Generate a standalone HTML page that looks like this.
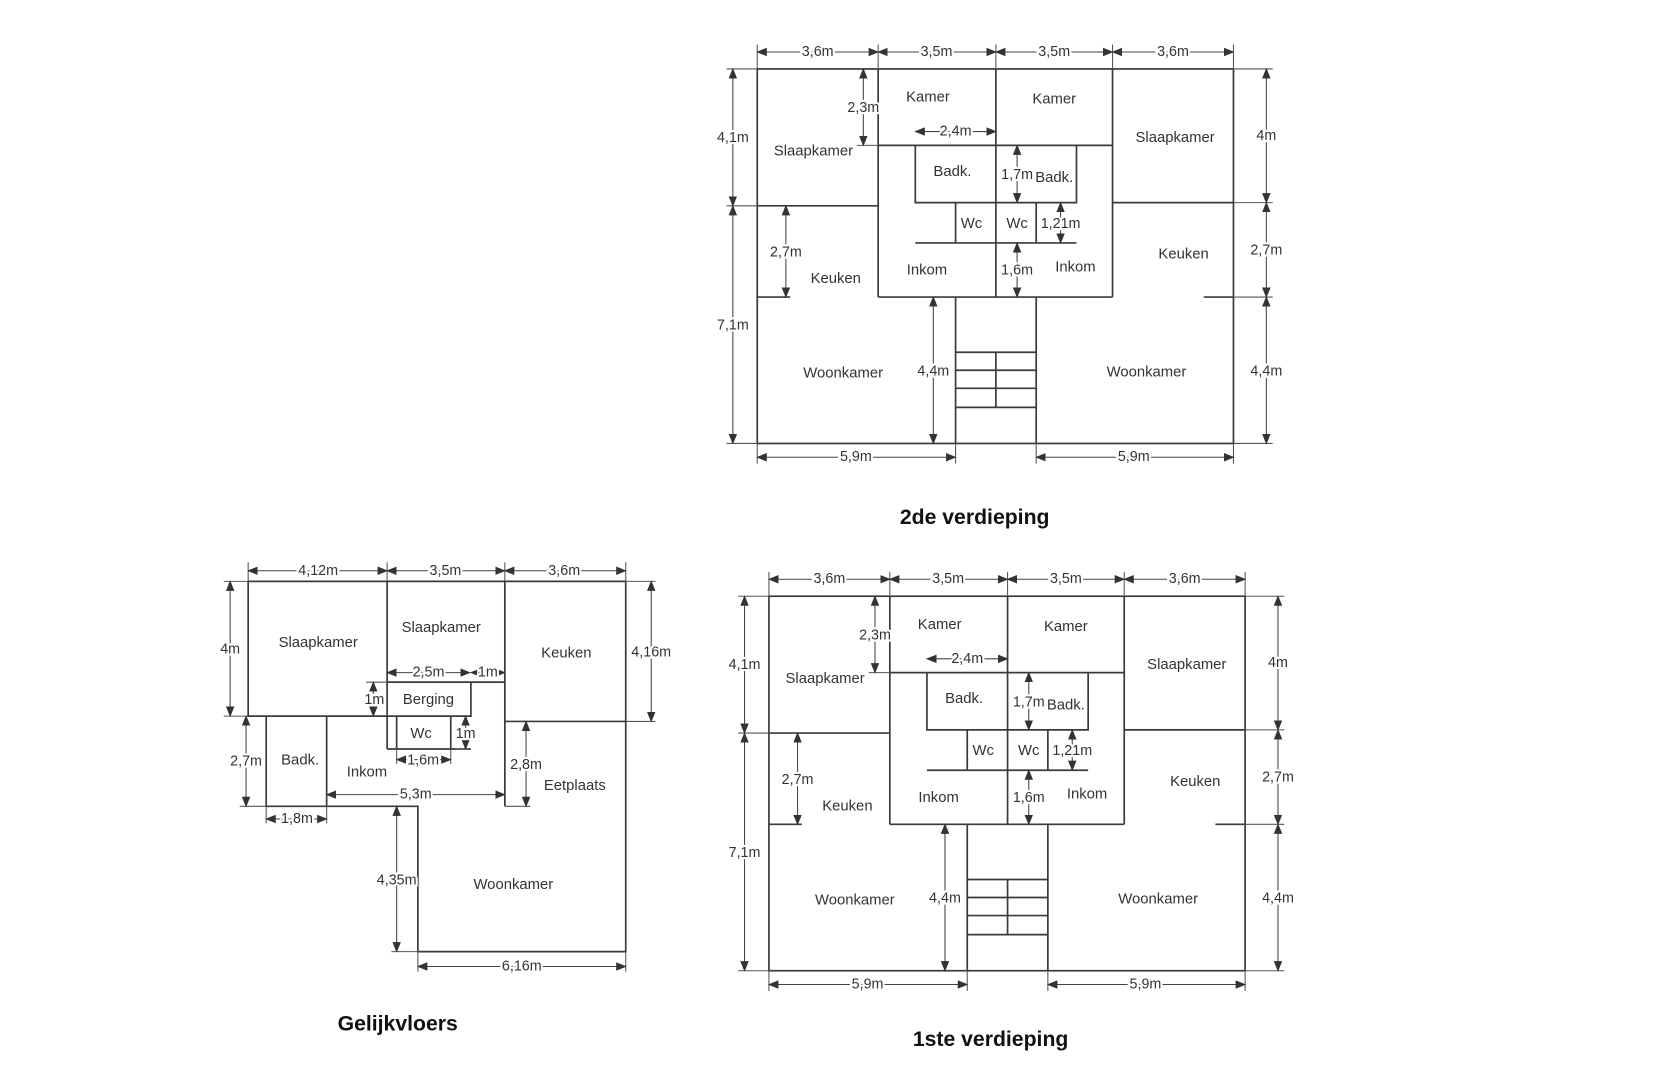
<!DOCTYPE html>
<html><head><meta charset="utf-8"><style>
html,body{margin:0;padding:0;background:#fff;}
svg{display:block;}
.w{stroke:#3a3a3a;stroke-width:1.6;fill:none;}
.e{stroke:#555;stroke-width:1;fill:none;}
.d{stroke:#444;stroke-width:1;marker-start:url(#a);marker-end:url(#a);}
text{font-family:"Liberation Sans",sans-serif;font-size:14px;fill:#333;text-anchor:middle;dominant-baseline:central;}
.t{font-size:13.5px;stroke:#fff;stroke-width:4px;paint-order:stroke;}
.h{font-size:20px;font-weight:bold;fill:#111;}
</style></head><body>
<svg width="1663" height="1080" viewBox="0 0 1568 1018" preserveAspectRatio="none" xmlns="http://www.w3.org/2000/svg">
<defs><marker id="a" markerWidth="10" markerHeight="8" refX="9" refY="4" orient="auto-start-reverse" markerUnits="userSpaceOnUse"><path d="M0,0L10,4L0,8z" fill="#333"/></marker></defs>

<!-- 2de verdieping -->
<g>
<rect class="w" x="714" y="65" width="449" height="353"/>
<path class="w" d="M828 65V280M939 65V280M1049 65V280M714 194H828M828 137H1049M1049 191H1163M828 280H1049M863 137V191H1015V137M901 191V229M977 191V229M863 229H1015M714 280H745M1135 280H1163M901 280V418M977 280V418M901 332H977M901 349H977M901 366H977M901 384H977M939 332V384"/>
<path class="e" d="M714 42V65M828 42V65M939 42V65M1049 42V65M1163 42V65M685 65H714M685 194H714M685 418H714M1163 65H1200M1163 191H1200M1163 280H1200M1163 418H1200M714 418V437M901 418V437M977 418V437M1163 418V437M808 137H828"/>
<line class="d" x1="714" y1="49" x2="828" y2="49"/><line class="d" x1="828" y1="49" x2="939" y2="49"/><line class="d" x1="939" y1="49" x2="1049" y2="49"/><line class="d" x1="1049" y1="49" x2="1163" y2="49"/>
<line class="d" x1="691" y1="65" x2="691" y2="194"/><line class="d" x1="691" y1="194" x2="691" y2="418"/>
<line class="d" x1="1194" y1="65" x2="1194" y2="191"/><line class="d" x1="1194" y1="191" x2="1194" y2="280"/><line class="d" x1="1194" y1="280" x2="1194" y2="418"/>
<line class="d" x1="814" y1="65" x2="814" y2="137"/><line class="d" x1="863" y1="124" x2="939" y2="124"/>
<line class="d" x1="959" y1="137" x2="959" y2="191"/><line class="d" x1="1000" y1="191" x2="1000" y2="229"/><line class="d" x1="959" y1="229" x2="959" y2="280"/>
<line class="d" x1="741" y1="194" x2="741" y2="280"/><line class="d" x1="880" y1="280" x2="880" y2="418"/>
<line class="d" x1="714" y1="431" x2="901" y2="431"/><line class="d" x1="977" y1="431" x2="1163" y2="431"/>
<text class="t" x="771" y="49">3,6m</text><text class="t" x="883" y="49">3,5m</text><text class="t" x="994" y="49">3,5m</text><text class="t" x="1106" y="49">3,6m</text>
<text class="t" x="691" y="130">4,1m</text><text class="t" x="691" y="307">7,1m</text>
<text class="t" x="1194" y="128">4m</text><text class="t" x="1194" y="236">2,7m</text><text class="t" x="1194" y="350">4,4m</text>
<text class="t" x="814" y="102">2,3m</text><text class="t" x="901" y="124">2,4m</text>
<text class="t" x="959" y="165">1,7m</text><text class="t" x="1000" y="211">1,21m</text><text class="t" x="959" y="255">1,6m</text>
<text class="t" x="741" y="238">2,7m</text><text class="t" x="880" y="350">4,4m</text>
<text class="t" x="807" y="431">5,9m</text><text class="t" x="1069" y="431">5,9m</text>
<text x="875" y="92">Kamer</text><text x="994" y="94">Kamer</text>
<text x="767" y="143">Slaapkamer</text><text x="1108" y="130">Slaapkamer</text>
<text x="898" y="162">Badk.</text><text x="994" y="168">Badk.</text>
<text x="916" y="211">Wc</text><text x="959" y="211">Wc</text>
<text x="874" y="255">Inkom</text><text x="1014" y="252">Inkom</text>
<text x="788" y="263">Keuken</text><text x="1116" y="240">Keuken</text>
<text x="795" y="352">Woonkamer</text><text x="1081" y="351">Woonkamer</text>
</g>
<text class="h" x="919" y="488">2de verdieping</text>

<!-- 1ste verdieping -->
<g transform="translate(11,497)">
<rect class="w" x="714" y="65" width="449" height="353"/>
<path class="w" d="M828 65V280M939 65V280M1049 65V280M714 194H828M828 137H1049M1049 191H1163M828 280H1049M863 137V191H1015V137M901 191V229M977 191V229M863 229H1015M714 280H745M1135 280H1163M901 280V418M977 280V418M901 332H977M901 349H977M901 366H977M901 384H977M939 332V384"/>
<path class="e" d="M714 42V65M828 42V65M939 42V65M1049 42V65M1163 42V65M685 65H714M685 194H714M685 418H714M1163 65H1200M1163 191H1200M1163 280H1200M1163 418H1200M714 418V437M901 418V437M977 418V437M1163 418V437M808 137H828"/>
<line class="d" x1="714" y1="49" x2="828" y2="49"/><line class="d" x1="828" y1="49" x2="939" y2="49"/><line class="d" x1="939" y1="49" x2="1049" y2="49"/><line class="d" x1="1049" y1="49" x2="1163" y2="49"/>
<line class="d" x1="691" y1="65" x2="691" y2="194"/><line class="d" x1="691" y1="194" x2="691" y2="418"/>
<line class="d" x1="1194" y1="65" x2="1194" y2="191"/><line class="d" x1="1194" y1="191" x2="1194" y2="280"/><line class="d" x1="1194" y1="280" x2="1194" y2="418"/>
<line class="d" x1="814" y1="65" x2="814" y2="137"/><line class="d" x1="863" y1="124" x2="939" y2="124"/>
<line class="d" x1="959" y1="137" x2="959" y2="191"/><line class="d" x1="1000" y1="191" x2="1000" y2="229"/><line class="d" x1="959" y1="229" x2="959" y2="280"/>
<line class="d" x1="741" y1="194" x2="741" y2="280"/><line class="d" x1="880" y1="280" x2="880" y2="418"/>
<line class="d" x1="714" y1="431" x2="901" y2="431"/><line class="d" x1="977" y1="431" x2="1163" y2="431"/>
<text class="t" x="771" y="49">3,6m</text><text class="t" x="883" y="49">3,5m</text><text class="t" x="994" y="49">3,5m</text><text class="t" x="1106" y="49">3,6m</text>
<text class="t" x="691" y="130">4,1m</text><text class="t" x="691" y="307">7,1m</text>
<text class="t" x="1194" y="128">4m</text><text class="t" x="1194" y="236">2,7m</text><text class="t" x="1194" y="350">4,4m</text>
<text class="t" x="814" y="102">2,3m</text><text class="t" x="901" y="124">2,4m</text>
<text class="t" x="959" y="165">1,7m</text><text class="t" x="1000" y="211">1,21m</text><text class="t" x="959" y="255">1,6m</text>
<text class="t" x="741" y="238">2,7m</text><text class="t" x="880" y="350">4,4m</text>
<text class="t" x="807" y="431">5,9m</text><text class="t" x="1069" y="431">5,9m</text>
<text x="875" y="92">Kamer</text><text x="994" y="94">Kamer</text>
<text x="767" y="143">Slaapkamer</text><text x="1108" y="130">Slaapkamer</text>
<text x="898" y="162">Badk.</text><text x="994" y="168">Badk.</text>
<text x="916" y="211">Wc</text><text x="959" y="211">Wc</text>
<text x="874" y="255">Inkom</text><text x="1014" y="252">Inkom</text>
<text x="788" y="263">Keuken</text><text x="1116" y="240">Keuken</text>
<text x="795" y="352">Woonkamer</text><text x="1081" y="351">Woonkamer</text>
</g>
<text class="h" x="934" y="980">1ste verdieping</text>

<!-- Gelijkvloers -->
<g>
<path class="w" d="M234 548H590V897H394V760H251V675H234ZM365 548V706M476 548V760M234 675H444V643H365M365 643H476M374 675V706M425 675V706M365 706H444M251 675V760M308 675V760M476 680H590"/>
<path class="e" d="M234 530V548M365 530V548M476 530V548M590 530V548M211 548H234M211 675H234M226 760H251M590 548H618M590 680H618M476 760H500M369 897H394M394 897V916M590 897V916M251 760V776M308 760V776M374 706V720M425 706V720M345 643H365M430 706H444"/>
<line class="d" x1="234" y1="538" x2="365" y2="538"/><line class="d" x1="365" y1="538" x2="476" y2="538"/><line class="d" x1="476" y1="538" x2="590" y2="538"/>
<line class="d" x1="217" y1="548" x2="217" y2="675"/><line class="d" x1="232" y1="675" x2="232" y2="760"/>
<line class="d" x1="614" y1="548" x2="614" y2="680"/>
<line class="d" x1="365" y1="634" x2="443" y2="634"/><line class="d" x1="444" y1="634" x2="476" y2="634"/>
<line class="d" x1="352" y1="643" x2="352" y2="675"/><line class="d" x1="439" y1="675" x2="439" y2="706"/>
<line class="d" x1="374" y1="716" x2="425" y2="716"/>
<line class="d" x1="308" y1="749" x2="476" y2="749"/><line class="d" x1="251" y1="772" x2="308" y2="772"/>
<line class="d" x1="496" y1="680" x2="496" y2="760"/><line class="d" x1="374" y1="760" x2="374" y2="897"/>
<line class="d" x1="394" y1="911" x2="590" y2="911"/>
<text class="t" x="300" y="538">4,12m</text><text class="t" x="420" y="538">3,5m</text><text class="t" x="532" y="538">3,6m</text>
<text class="t" x="217" y="612">4m</text><text class="t" x="232" y="718">2,7m</text><text class="t" x="614" y="615">4,16m</text>
<text class="t" x="404" y="634">2,5m</text><text class="t" x="460" y="634">1m</text>
<text class="t" x="353" y="660">1m</text><text class="t" x="439" y="692">1m</text>
<text class="t" x="399" y="717">1,6m</text><text class="t" x="392" y="749">5,3m</text><text class="t" x="280" y="772">1,8m</text>
<text class="t" x="496" y="721">2,8m</text><text class="t" x="374" y="830">4,35m</text><text class="t" x="492" y="911">6,16m</text>
<text x="300" y="606">Slaapkamer</text><text x="416" y="592">Slaapkamer</text><text x="534" y="616">Keuken</text>
<text x="404" y="660">Berging</text><text x="397" y="692">Wc</text><text x="283" y="717">Badk.</text>
<text x="346" y="728">Inkom</text><text x="542" y="741">Eetplaats</text><text x="484" y="834">Woonkamer</text>
</g>
<text class="h" x="375" y="965">Gelijkvloers</text>
</svg>
</body></html>
